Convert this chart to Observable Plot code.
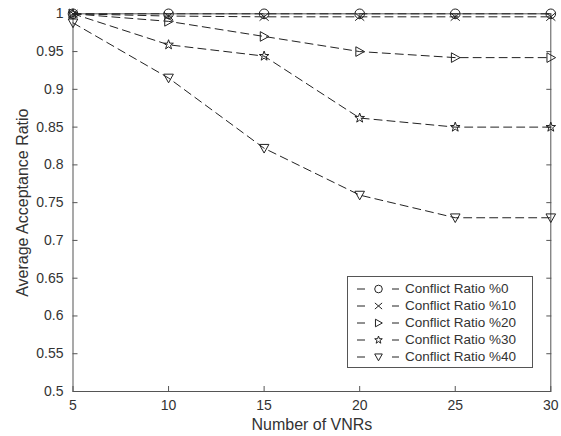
<!DOCTYPE html>
<html><head><meta charset="utf-8">
<script src="https://cdn.jsdelivr.net/npm/d3@7"></script>
<script src="https://cdn.jsdelivr.net/npm/@observablehq/plot@0.6"></script>
<style>
body{margin:0;background:#fff;font-family:"Liberation Sans",Arial,sans-serif;}
#wrap{position:relative;width:561px;height:436px;}
#wrap > svg{position:absolute;left:0;top:0;}
#legend{position:absolute;left:347px;top:276px;width:186px;height:92px;border:1px solid #555;background:#fff;box-sizing:border-box;}
.row{position:absolute;left:0;width:184px;height:16px;}
.row svg{position:absolute;left:0;top:0;}
.row span{position:absolute;left:57px;top:0;line-height:16px;font-size:13.5px;color:#333;white-space:nowrap;}
g[aria-label="x-axis tick label"], g[aria-label="y-axis tick label"]{font-size:14px;fill:#333;}
g[aria-label="x-axis label"], g[aria-label="y-axis label"]{font-size:16px;fill:#333;}
</style></head>
<body><div id="wrap"><div id="legend"></div></div>
<script>
const numVNRs = [5, 10, 15, 20, 25, 30];
const seriesNames = ["Conflict Ratio %0", "Conflict Ratio %10", "Conflict Ratio %20", "Conflict Ratio %30", "Conflict Ratio %40"];
const ratio0  = [1, 1, 1, 1, 1, 1];
const ratio10 = [1, 0.997, 0.996, 0.996, 0.996, 0.996];
const ratio20 = [1, 0.990, 0.970, 0.950, 0.942, 0.942];
const ratio30 = [1, 0.959, 0.944, 0.862, 0.850, 0.850];
const ratio40 = [0.988, 0.915, 0.822, 0.760, 0.730, 0.730];
const yTicks = [0.5, 0.55, 0.6, 0.65, 0.7, 0.75, 0.8, 0.85, 0.9, 0.95, 1];
const yTickLabels = ["0.5","0.55","0.6","0.65","0.7","0.75","0.8","0.85","0.9","0.95","1"];

const rOf = s => Math.sqrt(s / Math.PI);
const symCircle = {draw(c, s){const r = rOf(s); c.moveTo(r,0); c.arc(0,0,r,0,2*Math.PI);}};
const symTimes = {draw(c, s){const r = rOf(s)*0.95; c.moveTo(-r,-r*0.85); c.lineTo(r,r*0.85); c.moveTo(-r,r*0.85); c.lineTo(r,-r*0.85);}};
const symRight = {draw(c, s){const r = rOf(s); c.moveTo(-0.8*r,-r); c.lineTo(r,0); c.lineTo(-0.8*r,r); c.closePath();}};
const symStar = {draw(c, s){const r = rOf(s)*1.05, ri = r*0.4; for(let i=0;i<10;i++){const a=-Math.PI/2+i*Math.PI/5; const rr=i%2?ri:r; const x=rr*Math.cos(a), y=rr*Math.sin(a); i?c.lineTo(x,y):c.moveTo(x,y);} c.closePath();}};
const symDown = {draw(c, s){const r = rOf(s); c.moveTo(-r,-0.8*r); c.lineTo(r,-0.8*r); c.lineTo(0,r); c.closePath();}};
const symbols = [symCircle, symTimes, symRight, symStar, symDown];
const allSeries = [ratio0, ratio10, ratio20, ratio30, ratio40];

const data = [];
allSeries.forEach((vals, si) => vals.forEach((v, i) => data.push({series: seriesNames[si], si, x: numVNRs[i], y: v})));

const ink = "#222";
const axisCol = "#555";
const marks = [
  Plot.frame({stroke: axisCol, strokeWidth: 1}),
  Plot.axisX({ticks: numVNRs, tickSize: -5, tickPadding: 14, stroke: axisCol, label: "Number of VNRs", labelAnchor: "center", labelArrow: "none", labelOffset: 38}),
  Plot.axisX({anchor: "top", ticks: numVNRs, tickSize: -5, tickFormat: () => "", stroke: axisCol, label: null}),
  Plot.axisY({ticks: yTicks, tickFormat: (d, i) => yTickLabels[i], tickSize: -5, tickPadding: 14.5, stroke: axisCol, label: "Average Acceptance Ratio", labelAnchor: "center", labelArrow: "none", labelOffset: 56}),
  Plot.axisY({anchor: "right", ticks: yTicks, tickSize: -5, tickFormat: () => "", stroke: axisCol, label: null})
];
allSeries.forEach((vals, si) => {
  const d = data.filter(e => e.si === si);
  marks.push(Plot.line(d, {x: "x", y: "y", stroke: ink, strokeWidth: 1, strokeDasharray: "8,5"}));
});
allSeries.forEach((vals, si) => {
  const d = data.filter(e => e.si === si);
  marks.push(Plot.dot(d, {x: "x", y: "y", symbol: () => symbols[si], r: 4.8, stroke: ink, strokeWidth: 1, fill: "none"}));
});

const chart = Plot.plot({
  width: 561, height: 436,
  marginLeft: 72.5, marginRight: 10.7, marginTop: 13.3, marginBottom: 45,
  style: {fontFamily: "'Liberation Sans', Arial, sans-serif", background: "#fff", color: "#333"},
  x: {domain: [5, 30]},
  y: {domain: [0.5, 1]},
  symbol: {type: "identity"},
  marks
});
document.getElementById("wrap").prepend(chart);

// legend
const legend = document.getElementById("legend");
seriesNames.forEach((name, si) => {
  const row = document.createElement("div");
  row.className = "row";
  row.style.top = (4 + si * 16.9) + "px";
  const svg = d3.create("svg").attr("width", 56).attr("height", 16);
  svg.append("line").attr("x1", 9).attr("x2", 17).attr("y1", 8).attr("y2", 8).attr("stroke", ink);
  svg.append("line").attr("x1", 44).attr("x2", 51).attr("y1", 8).attr("y2", 8).attr("stroke", ink);
  svg.append("path").attr("transform", "translate(30.5,8)").attr("d", d3.symbol(symbols[si], Math.PI * 3.8 * 3.8)()).attr("fill", "none").attr("stroke", ink);
  row.appendChild(svg.node());
  const t = document.createElement("span");
  t.textContent = name;
  row.appendChild(t);
  legend.appendChild(row);
});
</script></body></html>
